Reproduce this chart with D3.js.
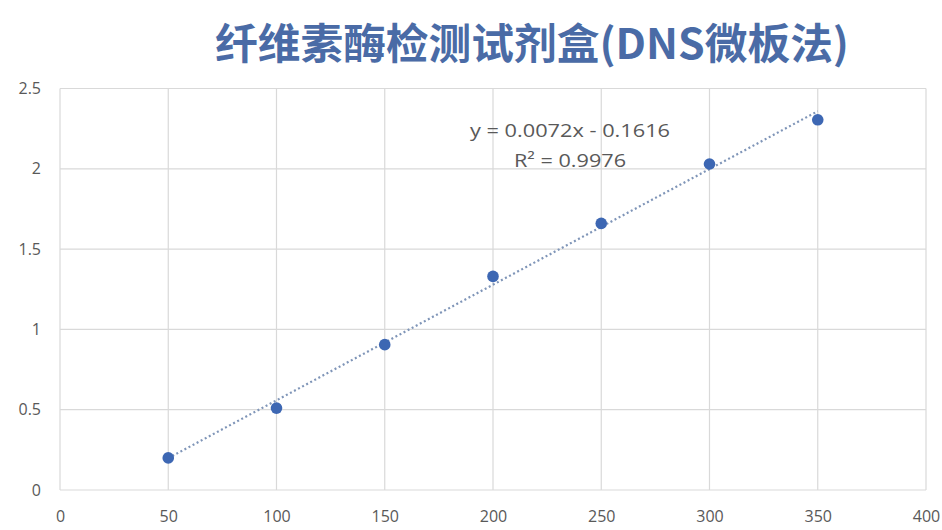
<!DOCTYPE html>
<html><head><meta charset="utf-8">
<script src="https://cdn.jsdelivr.net/npm/d3@7"></script>
<style>body{margin:0;background:#fff;}svg{display:block;font-family:"Open Sans","Noto Sans",sans-serif;}</style>
</head><body>
<svg id="c" width="942" height="530"></svg>
<script>
const title = "纤维素酶检测试剂盒(DNS微板法)";
const xValues = [50, 100, 150, 200, 250, 300, 350];
const yValues = [0.2, 0.51, 0.905, 1.33, 1.66, 2.03, 2.305];
const xTicks = [0, 50, 100, 150, 200, 250, 300, 350, 400];
const yTicks = [0, 0.5, 1, 1.5, 2, 2.5];
const slope = 0.0072, intercept = -0.1616;
const eqText = "y = 0.0072x - 0.1616";
const r2Text = "R² = 0.9976";

const svg = d3.select("#c");
const x = d3.scaleLinear().domain([0, 400]).range([60, 926]);
const y = d3.scaleLinear().domain([0, 2.5]).range([490, 88.5]);

// gridlines
svg.append("g").selectAll("line").data(xTicks).join("line")
  .attr("x1", d => x(d)).attr("x2", d => x(d)).attr("y1", y(0)).attr("y2", y(2.5))
  .attr("stroke", "#d9d9d9").attr("stroke-width", 1.2);
svg.append("g").selectAll("line").data(yTicks).join("line")
  .attr("y1", d => y(d)).attr("y2", d => y(d)).attr("x1", x(0)).attr("x2", x(400))
  .attr("stroke", "#d9d9d9").attr("stroke-width", 1.2);

// axes labels via d3 axes
const xAxis = svg.append("g").attr("transform", `translate(0,${y(0)})`)
  .call(d3.axisBottom(x).tickValues(xTicks).tickSize(0).tickPadding(21).tickFormat(d3.format("d")));
const yAxis = svg.append("g").attr("transform", `translate(${x(0)},0)`)
  .call(d3.axisLeft(y).tickValues(yTicks).tickSize(0).tickPadding(19).tickFormat(d => d3.format("")(d)));
[xAxis, yAxis].forEach(a => {
  a.select(".domain").remove();
  a.selectAll("text").attr("fill", "#595959").style("font-size", "16px")
    .style("font-family", "'Open Sans','Noto Sans',sans-serif");
});

// trendline
svg.append("line")
  .attr("x1", x(xValues[0])).attr("y1", y(slope * xValues[0] + intercept))
  .attr("x2", x(xValues[xValues.length - 1])).attr("y2", y(slope * xValues[xValues.length - 1] + intercept))
  .attr("stroke", "#7f95b8").attr("stroke-width", 2.2).attr("stroke-dasharray", "2,2.6");

// points
svg.append("g").selectAll("circle").data(xValues).join("circle")
  .attr("cx", d => x(d)).attr("cy", (d, i) => y(yValues[i])).attr("r", 5.8)
  .attr("fill", "#3d67b3");

// equation
svg.append("text").attr("x", 570).attr("y", 137).attr("text-anchor", "middle")
  .attr("fill", "#595959").style("font-size", "18px")
  .attr("textLength", 200).attr("lengthAdjust", "spacingAndGlyphs").text(eqText);
svg.append("text").attr("x", 570).attr("y", 167).attr("text-anchor", "middle")
  .attr("fill", "#595959").style("font-size", "18px")
  .attr("textLength", 112).attr("lengthAdjust", "spacingAndGlyphs").text(r2Text);

// title
svg.append("text").attr("x", 532).attr("y", 59).attr("text-anchor", "middle")
  .attr("fill", "#4a6ba6").style("font-size", "42px").style("font-weight", "bold")
  .style("font-family", "'Noto Sans CJK SC',sans-serif")
  .attr("textLength", 634).attr("lengthAdjust", "spacingAndGlyphs").text(title);
</script>
</body></html>
